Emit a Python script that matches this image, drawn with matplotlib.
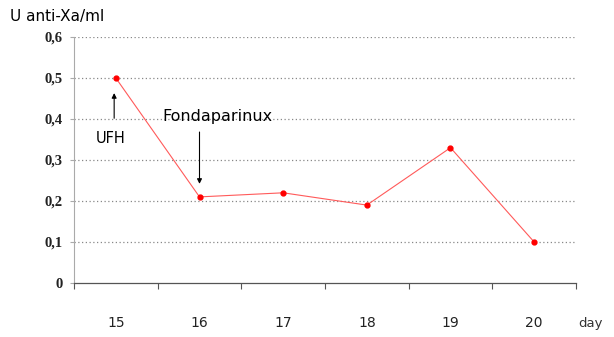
import matplotlib
matplotlib.use("Agg")
import matplotlib.pyplot as plt
from matplotlib.ticker import FixedLocator

# data
days = ["15", "16", "17", "18", "19", "20"]
anti_xa = [0.50, 0.21, 0.22, 0.19, 0.33, 0.10]
y_ticks = [0, 0.1, 0.2, 0.3, 0.4, 0.5, 0.6]
y_tick_labels = ["0", "0,1", "0,2", "0,3", "0,4", "0,5", "0,6"]

W, H = 614, 337
fig = plt.figure(figsize=(W / 100, H / 100), dpi=100)
ax = fig.add_axes([74 / W, (H - 283) / H, (576 - 74) / W, (283 - 37) / H])

x = [i + 0.5 for i in range(len(days))]
ax.plot(x, anti_xa, color="#ff5a5a", lw=0.8, zorder=3)
ax.plot(x, anti_xa, ls="none", marker="o", ms=3.5, color="#ff0000", zorder=4)

ax.set_xlim(0, len(days))
ax.set_ylim(0, 0.6)

# gridlines
for v in y_ticks[1:]:
    ax.axhline(v, color="#888888", lw=0.9, ls=(0, (1, 2)), zorder=1)

for s in ["top", "right"]:
    ax.spines[s].set_visible(False)
ax.spines["left"].set_color("#aaaaaa")
ax.spines["left"].set_linewidth(0.8)
ax.spines["bottom"].set_color("#555555")
ax.spines["bottom"].set_linewidth(0.9)

sans = "DejaVu Sans"

# x axis: tick marks at category edges, labels centered well below
ax.xaxis.set_major_locator(FixedLocator(range(len(days) + 1)))
ax.xaxis.set_minor_locator(FixedLocator(x))
ax.set_xticklabels([], minor=False)
ax.set_xticklabels(days, minor=True, fontsize=10, family=sans, color="#222222")
ax.tick_params(axis="x", which="major", direction="out", length=4, color="#555555")
ax.tick_params(axis="x", which="minor", length=0, pad=24)

ax.set_yticks(y_ticks)
ax.set_yticklabels(y_tick_labels, fontsize=10.5, family="Liberation Serif", fontweight="bold",
                   color="#222222")
ax.tick_params(axis="y", direction="out", length=3, color="#aaaaaa", pad=5)

# labels
fig.text(10 / W, 1 - 17 / H, "U anti-Xa/ml", fontsize=11, family=sans,
         va="center", ha="left")
fig.text(578 / W, 1 - 324 / H, "day", fontsize=9.5, family=sans,
         va="center", ha="left", color="#333333")

# annotations
ax.annotate("", xy=(x[0] - 0.02, 0.47), xytext=(x[0] - 0.02, 0.395),
            arrowprops=dict(arrowstyle="-|>", color="black", lw=0.8, mutation_scale=7))
ax.text(0.44, 0.352, "UFH", fontsize=10.5, family=sans, ha="center", va="center")
ax.text(1.06, 0.405, "Fondaparinux", fontsize=11.5, family=sans, ha="left", va="center")
ax.annotate("", xy=(x[1], 0.235), xytext=(x[1], 0.375),
            arrowprops=dict(arrowstyle="-|>", color="black", lw=0.8, mutation_scale=7))

fig.savefig("out.png", dpi=100)
